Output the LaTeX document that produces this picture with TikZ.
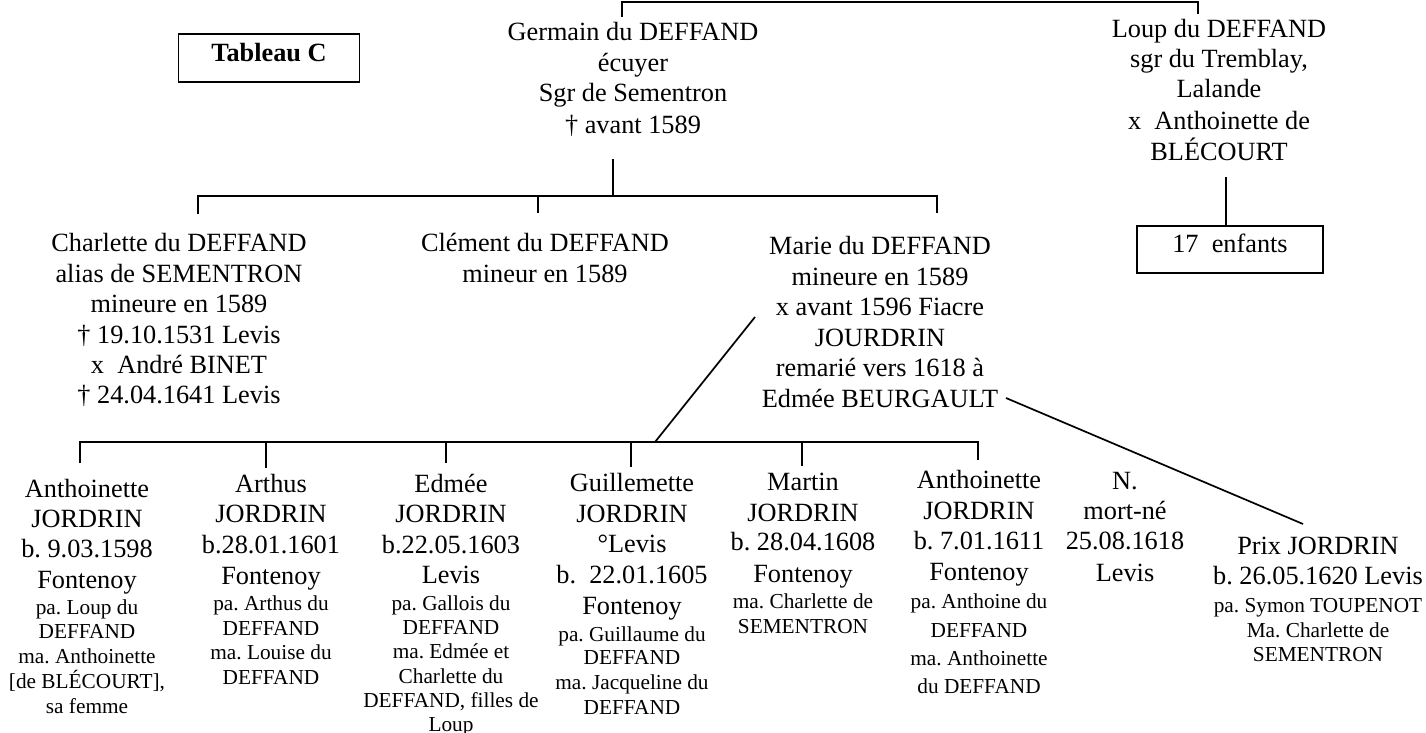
\documentclass[tikz,border=0pt]{standalone}
\usepackage{fontspec}
\setmainfont{Liberation Serif}
\frenchspacing
\tikzset{
  lg/.style={font=\frenchspacing\fontsize{26.3}{30}\selectfont, anchor=base, inner sep=0pt},
  sm/.style={font=\frenchspacing\fontsize{21.3}{25}\selectfont, anchor=base, inner sep=0pt},
  conn/.style={line width=1.7pt},
  boxed/.style={draw, line width=1.7pt, inner sep=0pt, anchor=base},
}
\newcommand\Ln[5]{\node[#1] (#2) at (#3,#4) {#5};}
\begin{document}
\frenchspacing
\begin{tikzpicture}[x=1pt,y=-1pt]
\useasboundingbox (0,0) rectangle (1426,733);

% title box
\node[boxed, font=\bfseries\fontsize{26.3}{30}\selectfont, minimum width=181pt, text height=28pt, text depth=20pt] (tab) at (269,62) {Tableau C};

% Germain
\Ln{lg}{g1}{633}{41}{Germain du DEFFAND}
\Ln{lg}{g2}{633}{72}{écuyer}
\Ln{lg}{g3}{633}{102}{Sgr de Sementron}
\Ln{lg}{g4}{633}{133}{† avant 1589}

% Loup
\Ln{lg}{l1}{1219}{38}{Loup du DEFFAND}
\Ln{lg}{l2}{1219}{68}{sgr du Tremblay,}
\Ln{lg}{l3}{1219}{98}{Lalande}
\Ln{lg}{l4}{1219}{129}{x\ \ Anthoinette de}
\Ln{lg}{l5}{1219}{160}{BLÉCOURT}
\node[boxed, lg, minimum width=186pt, text height=26pt, text depth=21pt] (enf) at (1230,252) {17\ \ enfants};

% Charlette
\Ln{lg}{c1}{179}{251}{Charlette du DEFFAND}
\Ln{lg}{c2}{179}{282}{alias de SEMENTRON}
\Ln{lg}{c3}{179}{312}{mineure en 1589}
\Ln{lg}{c4}{179}{343}{† 19.10.1531 Levis}
\Ln{lg}{c5}{179}{373}{x\ \ André BINET}
\Ln{lg}{c6}{179}{403}{† 24.04.1641 Levis}

% Clement
\Ln{lg}{d1}{545}{251}{Clément du DEFFAND}
\Ln{lg}{d2}{545}{282}{mineur en 1589}

% Marie
\Ln{lg}{m1}{880}{254}{Marie du DEFFAND}
\Ln{lg}{m2}{880}{285}{mineure en 1589}
\Ln{lg}{m3}{880}{315}{x avant 1596 Fiacre}
\Ln{lg}{m4}{880}{346}{JOURDRIN}
\Ln{lg}{m5}{880}{376}{remarié vers 1618 à}
\Ln{lg}{m6}{880}{407}{Edmée BEURGAULT}

% child 1
\Ln{lg}{a1}{87}{497}{Anthoinette}
\Ln{lg}{a2}{87}{527}{JORDRIN}
\Ln{lg}{a3}{87}{557}{b. 9.03.1598}
\Ln{lg}{a4}{87}{588}{Fontenoy}
\Ln{sm}{a5}{87}{614}{pa. Loup du}
\Ln{sm}{a6}{87}{638}{DEFFAND}
\Ln{sm}{a7}{87}{663}{ma. Anthoinette}
\Ln{sm}{a8}{87}{688}{[de BLÉCOURT],}
\Ln{sm}{a9}{87}{713}{sa femme}

% child 2
\Ln{lg}{b1}{271}{492}{Arthus}
\Ln{lg}{b2}{271}{522}{JORDRIN}
\Ln{lg}{b3}{271}{553}{b.28.01.1601}
\Ln{lg}{b4}{271}{584}{Fontenoy}
\Ln{sm}{b5}{271}{610}{pa. Arthus du}
\Ln{sm}{b6}{271}{635}{DEFFAND}
\Ln{sm}{b7}{271}{659}{ma. Louise du}
\Ln{sm}{b8}{271}{684}{DEFFAND}

% child 3
\Ln{lg}{e1}{451}{492}{Edmée}
\Ln{lg}{e2}{451}{522}{JORDRIN}
\Ln{lg}{e3}{451}{553}{b.22.05.1603}
\Ln{lg}{e4}{451}{583}{Levis}
\Ln{sm}{e5}{451}{610}{pa. Gallois du}
\Ln{sm}{e6}{451}{634}{DEFFAND}
\Ln{sm}{e7}{451}{658}{ma. Edmée et}
\Ln{sm}{e8}{451}{683}{Charlette du}
\Ln{sm}{e9}{451}{707}{DEFFAND, filles de}
\Ln{sm}{e10}{451}{731}{Loup}

% child 4
\Ln{lg}{f1}{632}{491}{Guillemette}
\Ln{lg}{f2}{632}{522}{JORDRIN}
\Ln{lg}{f3}{632}{552}{°Levis}
\Ln{lg}{f4}{632}{583}{b.\ \ 22.01.1605}
\Ln{lg}{f5}{632}{614}{Fontenoy}
\Ln{sm}{f6}{632}{641}{pa. Guillaume du}
\Ln{sm}{f7}{632}{664}{DEFFAND}
\Ln{sm}{f8}{632}{689}{ma. Jacqueline du}
\Ln{sm}{f9}{632}{714}{DEFFAND}

% child 5
\Ln{lg}{h1}{803}{490}{Martin}
\Ln{lg}{h2}{803}{521}{JORDRIN}
\Ln{lg}{h3}{803}{550}{b. 28.04.1608}
\Ln{lg}{h4}{803}{582}{Fontenoy}
\Ln{sm}{h5}{803}{608}{ma. Charlette de}
\Ln{sm}{h6}{803}{633}{SEMENTRON}

% child 6
\Ln{lg}{i1}{979}{488}{Anthoinette}
\Ln{lg}{i2}{979}{519}{JORDRIN}
\Ln{lg}{i3}{979}{549}{b. 7.01.1611}
\Ln{lg}{i4}{979}{580}{Fontenoy}
\Ln{sm}{i5}{979}{608}{pa. Anthoine du}
\Ln{sm}{i6}{979}{637}{DEFFAND}
\Ln{sm}{i7}{979}{665}{ma. Anthoinette}
\Ln{sm}{i8}{979}{693}{du DEFFAND}

% child 7
\Ln{lg}{n1}{1125}{489}{N.}
\Ln{lg}{n2}{1125}{519}{mort-né}
\Ln{lg}{n3}{1125}{549}{25.08.1618}
\Ln{lg}{n4}{1125}{581}{Levis}

% child 8
\Ln{lg}{p1}{1318}{554}{Prix JORDRIN}
\Ln{lg}{p2}{1318}{584}{b. 26.05.1620 Levis}
\Ln{sm}{p3}{1318}{612}{pa. Symon TOUPENOT}
\Ln{sm}{p4}{1318}{637}{Ma. Charlette de}
\Ln{sm}{p5}{1318}{661}{SEMENTRON}

% connector coordinates
\coordinate (topbar) at (0,2);
\coordinate (gTop) at (622,17);
\coordinate (lTop) at (1198,14);
\coordinate (gBot) at (613,159);
\coordinate (bar1) at (0,196);
\coordinate (cTop) at (198,214);
\coordinate (dTop) at (538,213);
\coordinate (mTop) at (937,213);
\coordinate (lBot) at (1226,177);
\coordinate (mA) at (755,317);
\coordinate (kbar) at (655,442);
\coordinate (mB) at (1006,398);
\coordinate (pTop) at (1303,524);
\coordinate (k1) at (80,463);
\coordinate (k2) at (266,468);
\coordinate (k3) at (446,463);
\coordinate (k4) at (631,467);
\coordinate (k5) at (802,466);
\coordinate (k6) at (978,460);

% connectors
\draw[conn] (gTop) |- (topbar -| lTop) -- (lTop);
\draw[conn] (gBot) -- (gBot |- bar1);
\draw[conn] (cTop) |- (mTop |- bar1) -- (mTop);
\draw[conn] (dTop) -- (dTop |- bar1);
\draw[conn] (lBot) -- (lBot |- enf.north);
\draw[conn] (mA) -- (kbar);
\draw[conn] (mB) -- (pTop);
\draw[conn] (k1) |- (k6 |- kbar) -- (k6);
\draw[conn] (k2) -- (k2 |- kbar);
\draw[conn] (k3) -- (k3 |- kbar);
\draw[conn] (k4) -- (k4 |- kbar);
\draw[conn] (k5) -- (k5 |- kbar);
\end{tikzpicture}
\end{document}
